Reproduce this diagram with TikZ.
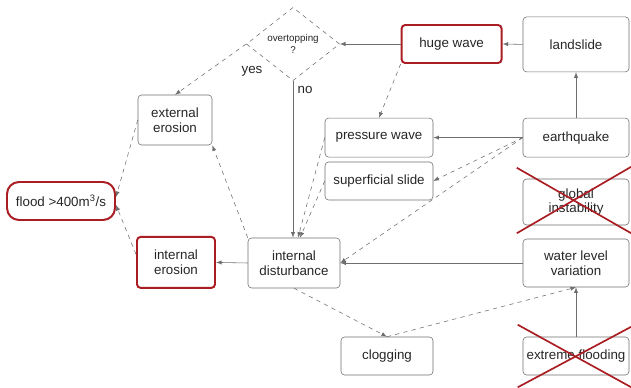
\documentclass[tikz,border=0pt]{standalone}
\usepackage{fontspec}
\setsansfont{Liberation Sans}
\usetikzlibrary{shapes.geometric}
\definecolor{dred}{RGB}{170,30,35}
\definecolor{lgray}{RGB}{110,110,110}
\tikzstyle{box}=[rectangle,draw=lgray,rounded corners=0.6ex,align=center,inner sep=0pt]
\tikzstyle{hot}=[box,draw=dred,line width=1.4pt]
\tikzstyle{cross}=[draw=dred,line width=1.2pt]
\tikzstyle{dsh}=[dashed]

\begin{document}
\begin{tikzpicture}[thin,draw=lgray,>=latex,font=\sffamily\fontsize{9.5}{10.5}\selectfont,text=black!85]
  \useasboundingbox (0,0) rectangle (15.775,-9.675);

  \node[diamond,draw=lgray,dashed,inner sep=0pt,minimum width=2.33cm,minimum height=1.83cm,align=center,font=\sffamily\fontsize{7}{8}\selectfont] (ovt) at (7.325,-1.1) {overtopping\\?};
  \node[hot,minimum width=2.5cm,minimum height=0.95cm] (hw) at (11.29,-1.1) {huge wave};
  \node[box,minimum width=2.65cm,minimum height=1.375cm] (ls) at (14.4,-1.11) {landslide};
  \node[box,minimum width=2.65cm,minimum height=0.975cm] (eq) at (14.4,-3.44) {earthquake};
  \node[box,minimum width=2.7cm,minimum height=0.975cm] (pw) at (9.475,-3.44) {pressure wave};
  \node[box,minimum width=2.7cm,minimum height=0.95cm] (ss) at (9.475,-4.525) {superficial slide};
  \node[box,minimum width=2.65cm,minimum height=1.15cm] (gi) at (14.4,-5.05) {global\\instability};
  \node[box,minimum width=1.85cm,minimum height=1.25cm] (ee) at (4.375,-3.0) {external\\erosion};
  \node[hot,rounded corners=0.3cm,minimum width=2.7cm,minimum height=0.95cm] (fl) at (1.525,-5.025) {flood >400m\textsuperscript{3}/s};
  \node[hot,minimum width=1.95cm,minimum height=1.275cm] (ie) at (4.4,-6.56) {internal\\erosion};
  \node[box,minimum width=2.3cm,minimum height=1.25cm] (id) at (7.35,-6.575) {internal\\disturbance};
  \node[box,minimum width=2.65cm,minimum height=1.2cm] (wlv) at (14.4,-6.575) {water level\\variation};
  \node[box,minimum width=2.3cm,minimum height=0.95cm] (cl) at (9.675,-8.9) {clogging};
  \node[box,minimum width=2.65cm,minimum height=0.95cm] (ef) at (14.4,-8.9) {extreme flooding};

  % top row
  \draw[->] (ls.west) -- (hw.east);
  \draw[->] (hw.west) -- (ovt.east);
  \draw[->,dsh] (ovt.west) -- (ee.north);
  \node (yes) at (6.3,-1.775) {yes};
  \draw[->] (ovt.south) -- (ovt.south |- id.north);
  \node (no) at (7.625,-2.25) {no};
  \draw[->,dsh] (hw.south west) -- (pw.north);

  % earthquake
  \draw[->] (eq.north) -- (ls.south);
  \draw[->] (eq.west) -- (pw.east);
  \draw[->,dsh] (eq.west) -- (ss.east);
  \draw[->,dsh] (eq.west) -- (id.east);
  \draw[->] (wlv.west) -- (id.east);

  % into internal disturbance
  \draw[->,dsh] (pw.west) -- ([xshift=0.1cm] id.north);
  \draw[->,dsh] (ss.west) -- ([xshift=0.15cm] id.north);
  \draw[->,dsh] (id.north west) -- (ee.south east);
  \draw[->] (id.west) -- (ie.east);

  % flood
  \draw[->,dsh] (ee.west) -- ([yshift=0.1cm] fl.east);
  \draw[->,dsh] ([yshift=0.2cm] ie.west) -- ([yshift=-0.1cm] fl.east);

  % clogging
  \draw[->,dsh] (id.south) -- (cl.north);
  \draw[->,dsh] (cl.north) -- (wlv.south);
  \draw[->] (ef.north) -- (wlv.south);

  % ruled out
  \draw[cross] ([shift={(-0.15,0.275)}] gi.north west) -- ([shift={(0.05,-0.2)}] gi.south east);
  \draw[cross] ([shift={(-0.15,-0.2)}] gi.south west) -- ([shift={(0.05,0.3)}] gi.north east);
  \draw[cross] ([shift={(-0.125,0.3)}] ef.north west) -- ([shift={(0.05,-0.3)}] ef.south east);
  \draw[cross] ([shift={(-0.125,-0.3)}] ef.south west) -- ([shift={(0.05,0.25)}] ef.north east);
\end{tikzpicture}
\end{document}
